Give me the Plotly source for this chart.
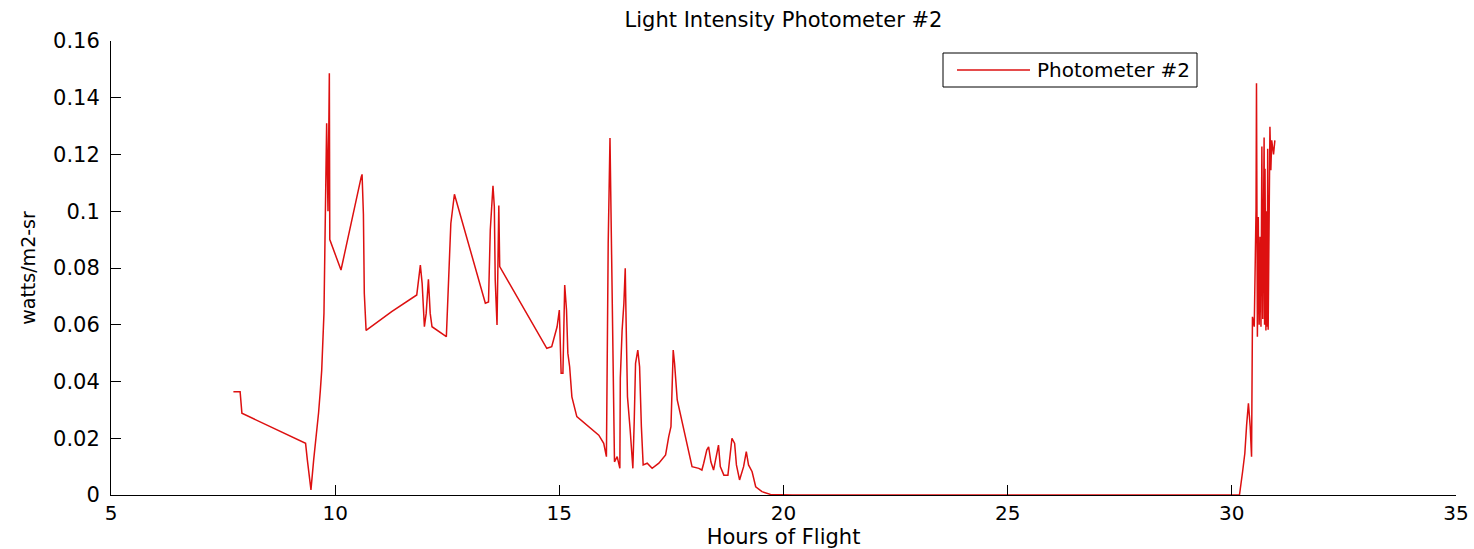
import plotly.graph_objects as go

hours = [7.73, 7.88, 7.92, 9.34, 9.38, 9.46, 9.52, 9.58, 9.63, 9.67, 9.70, 9.75, 9.78, 9.81, 9.84, 9.87, 9.88,
         10.13, 10.58, 10.60, 10.63, 10.65, 10.69,
         11.26, 11.82, 11.86, 11.90, 11.94, 11.99, 12.03, 12.08, 12.12, 12.16,
         12.48, 12.53, 12.58, 12.66,
         13.35, 13.42, 13.46, 13.52, 13.55, 13.57, 13.61, 13.65, 13.67,
         14.72, 14.83, 14.95, 15.00, 15.04, 15.08, 15.12, 15.16, 15.19, 15.23, 15.28, 15.39,
         15.88, 15.99, 16.05, 16.09, 16.13, 16.16, 16.20, 16.23, 16.29, 16.35, 16.36, 16.40, 16.44, 16.47, 16.49,
         16.52, 16.58, 16.64, 16.67, 16.70, 16.75, 16.79, 16.83, 16.87, 16.96, 17.07, 17.22, 17.37, 17.44, 17.49,
         17.54, 17.57, 17.63, 17.74, 17.85, 17.96, 18.11, 18.18, 18.22, 18.29, 18.33, 18.38, 18.44, 18.50, 18.55,
         18.59, 18.67, 18.76, 18.82, 18.85, 18.91, 18.95, 19.02, 19.11, 19.17, 19.22, 19.30, 19.38, 19.52, 19.71,
         20.20, 25.00, 30.17,
         30.24, 30.29, 30.33, 30.37, 30.41, 30.44, 30.46, 30.50, 30.54, 30.55, 30.57, 30.59, 30.61, 30.63, 30.65,
         30.67, 30.69, 30.70, 30.72, 30.73, 30.74, 30.76, 30.77, 30.79, 30.80, 30.81, 30.83, 30.85, 30.87, 30.89,
         30.93, 30.96]

watts = [0.0364, 0.0364, 0.0288, 0.0182, 0.0123, 0.0018, 0.0123, 0.0206, 0.029, 0.037, 0.044, 0.064, 0.098, 0.131, 0.100, 0.1486, 0.090,
         0.0793, 0.112, 0.113, 0.099, 0.071, 0.058,
         0.0646, 0.0705, 0.077, 0.081, 0.0746, 0.0593, 0.064, 0.076, 0.064, 0.0593,
         0.0558, 0.0746, 0.0957, 0.106,
         0.0676, 0.068, 0.0934, 0.109, 0.1016, 0.0758, 0.0599, 0.102, 0.0805,
         0.0517, 0.0523, 0.0593, 0.0652, 0.0429, 0.0429, 0.074, 0.0652, 0.050, 0.0452, 0.0346, 0.0276,
         0.0211, 0.0182, 0.0135, 0.0887, 0.1258, 0.0905, 0.0564, 0.0117, 0.0135, 0.0094, 0.0411, 0.058, 0.0676, 0.0799, 0.0605,
         0.0346, 0.0229, 0.0094, 0.0258, 0.0464, 0.0511, 0.0452, 0.0241, 0.0106, 0.0112, 0.0094, 0.0112, 0.0141, 0.0206, 0.0241,
         0.0511, 0.0464, 0.0335, 0.0253, 0.0182, 0.010, 0.0094, 0.0088, 0.0112, 0.0159, 0.017, 0.0117, 0.0088, 0.0141, 0.0176,
         0.010, 0.007, 0.007, 0.0159, 0.020, 0.0182, 0.0106, 0.0053, 0.010, 0.0153, 0.0106, 0.0082, 0.0029, 0.0012, 0.0002,
         0.0, 0.0, 0.0,
         0.0082, 0.0147, 0.0247, 0.0323, 0.0241, 0.0135, 0.0628, 0.0593, 0.1004, 0.1451, 0.0558, 0.098, 0.060, 0.091, 0.0593,
         0.1228, 0.062, 0.104, 0.126, 0.060, 0.115, 0.058, 0.100, 0.0593, 0.122, 0.0582, 0.091, 0.1298, 0.1145, 0.125,
         0.120, 0.125]

series_name = "Photometer #2"
x_ticks = [5, 10, 15, 20, 25, 30, 35]
y_ticks = [0, 0.02, 0.04, 0.06, 0.08, 0.1, 0.12, 0.14, 0.16]
y_tick_labels = ["0", "0.02", "0.04", "0.06", "0.08", "0.1", "0.12", "0.14", "0.16"]

W, H = 1474, 549
ML, MR, MT, MB = 111, 18, 41, 54
PW, PH = W - ML - MR, H - MT - MB
line_color = "#dd1010"


def px_x(px):
    return (px - ML) / PW


def px_y(py):
    return (H - MB - py) / PH


fig = go.Figure()
fig.add_trace(go.Scatter(x=hours, y=watts, mode="lines", name=series_name,
                         line=dict(color=line_color, width=1.5), showlegend=False))

font_family = "DejaVu Sans, Verdana, sans-serif"

# legend drawn as a box with a line sample and text (MATLAB style)
shapes = [
    dict(type="rect", xref="paper", yref="paper", x0=px_x(943), x1=px_x(1197), y0=px_y(87), y1=px_y(53),
         line=dict(color="black", width=1), fillcolor="white", layer="above"),
    dict(type="line", xref="paper", yref="paper", x0=px_x(957), x1=px_x(1030), y0=px_y(70), y1=px_y(70),
         line=dict(color=line_color, width=1.5), layer="above"),
]
annotations = [
    dict(text=series_name, xref="paper", yref="paper", x=px_x(1035), y=px_y(70), xanchor="left",
         yanchor="middle", showarrow=False, font=dict(size=20, color="black", family=font_family)),
]

fig.update_layout(
    width=W, height=H,
    margin=dict(l=ML, r=MR, t=MT, b=MB),
    paper_bgcolor="white", plot_bgcolor="white",
    font=dict(family=font_family, size=17, color="black"),
    title=dict(text="Light Intensity Photometer #2", xref="paper", x=0.5, xanchor="center",
               yref="container", y=0.965, yanchor="middle",
               font=dict(size=21, color="black")),
    showlegend=False,
    shapes=shapes,
    annotations=annotations,
)
fig.update_xaxes(range=[5, 35], tickvals=x_ticks, showline=True, linecolor="black", linewidth=1,
                 ticks="inside", ticklen=10, tickcolor="black", showgrid=False, zeroline=False,
                 automargin=False,
                 tickfont=dict(size=20), title=dict(text="Hours of Flight", font=dict(size=21), standoff=0))
fig.update_yaxes(range=[0, 0.16], tickvals=y_ticks, ticktext=y_tick_labels, showline=True, linecolor="black",
                 linewidth=1, ticks="inside", ticklen=10, tickcolor="black", showgrid=False, zeroline=False,
                 ticklabelstandoff=6, automargin=False,
                 tickfont=dict(size=21), title=dict(text="watts/m2-sr", font=dict(size=19), standoff=12))

fig.write_html("out.html", config={"displayModeBar": False},
               post_script="document.body.style.margin='0';document.body.style.overflow='hidden';")
